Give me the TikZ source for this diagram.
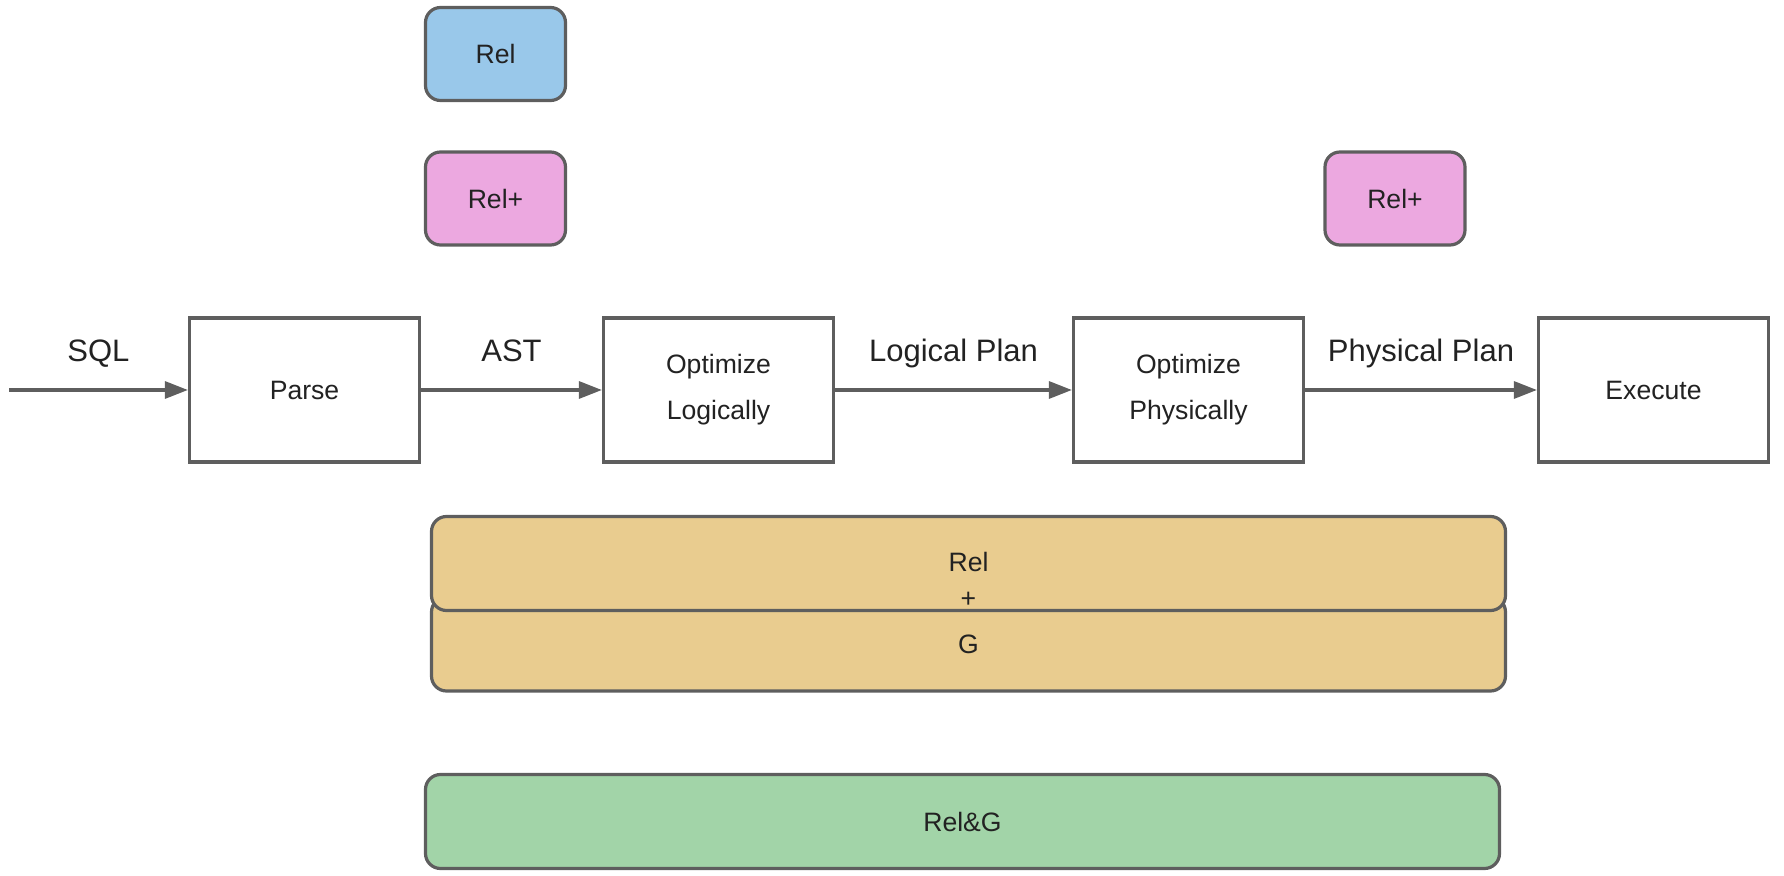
\documentclass[tikz,border=0pt]{standalone}
\usepackage{fontspec}
\setmainfont{Liberation Sans}
\usetikzlibrary{arrows.meta}

\definecolor{edgegray}{HTML}{5E5E5E}
\definecolor{inkgray}{HTML}{222222}
\definecolor{relblue}{HTML}{99C8EA}
\definecolor{relpink}{HTML}{ECA8E0}
\definecolor{relsand}{HTML}{E9CC8F}
\definecolor{relgreen}{HTML}{A2D4A8}

\begin{document}
\begin{tikzpicture}[
                        x=0.5pt, y=-0.5pt,
                        every node/.style={
                                font=\fontsize{13.3}{23}\selectfont,
                                text=inkgray,
                                align=center,
                                inner sep=0pt,
                            },
                        stage/.style={draw=edgegray, line width=1.6pt, fill=white,
                                minimum width=115pt, minimum height=72pt},
                        tag/.style={draw=edgegray, line width=1.6pt, rounded corners=7.5pt,
                                minimum width=70pt, minimum height=46.5pt},
                        band/.style={draw=edgegray, line width=1.6pt, rounded corners=7.5pt,
                                minimum width=537pt, minimum height=47pt},
                        flow/.style={draw=edgegray, line width=1.6pt,
                                -{Triangle[length=11.5pt,width=8.5pt]}},
                        flowlabel/.style={font=\fontsize{15.5}{18}\selectfont,
                                text height=0.75em, text depth=0.25em, above=11pt},
                    ]

                    \useasboundingbox (0,0) rectangle (1784,876);

                    % pipeline
                    \coordinate (sqlin) at (9,390);
                    \node[stage] (parse)   at (304.5,390)  {Parse};
                    \node[stage] (optlog)  at (718.5,390)  {Optimize\\Logically};
                    \node[stage] (optphys) at (1188.5,390) {Optimize\\Physically};
                    \node[stage] (exec)    at (1653.5,390) {Execute};

                    \draw[flow] (sqlin) -- (parse) node[midway,flowlabel] {SQL};
                    \foreach \a/\b/\txt in {parse/optlog/AST, optlog/optphys/Logical Plan, optphys/exec/Physical Plan}{
                            \draw[flow] (\a) -- (\b) node[midway,flowlabel] {\txt};
                        }

                    % representations
                    \node[tag, fill=relblue] (rel)      at (495.5,54)    {Rel};
                    \node[tag, fill=relpink] (relplusa) at (495.5,198.5) {Rel+};
                    \node[tag, fill=relpink] (relplusb) at (1395,198.5)  {Rel+};

                    \node[band, fill=relsand]  (gback)  at (968.5,644) {G};
                    \node[band, fill=relsand]  (gfront) at (968.5,563.5) {};
                    \node[anchor=base] (relword) at (968.5,571.5) {Rel};
                    \node[anchor=base] (relplus) at (968.5,608) {+};

                    \node[band, fill=relgreen] (relg) at (962.5,821.5) {Rel\&G};
                \end{tikzpicture}
\end{document}
